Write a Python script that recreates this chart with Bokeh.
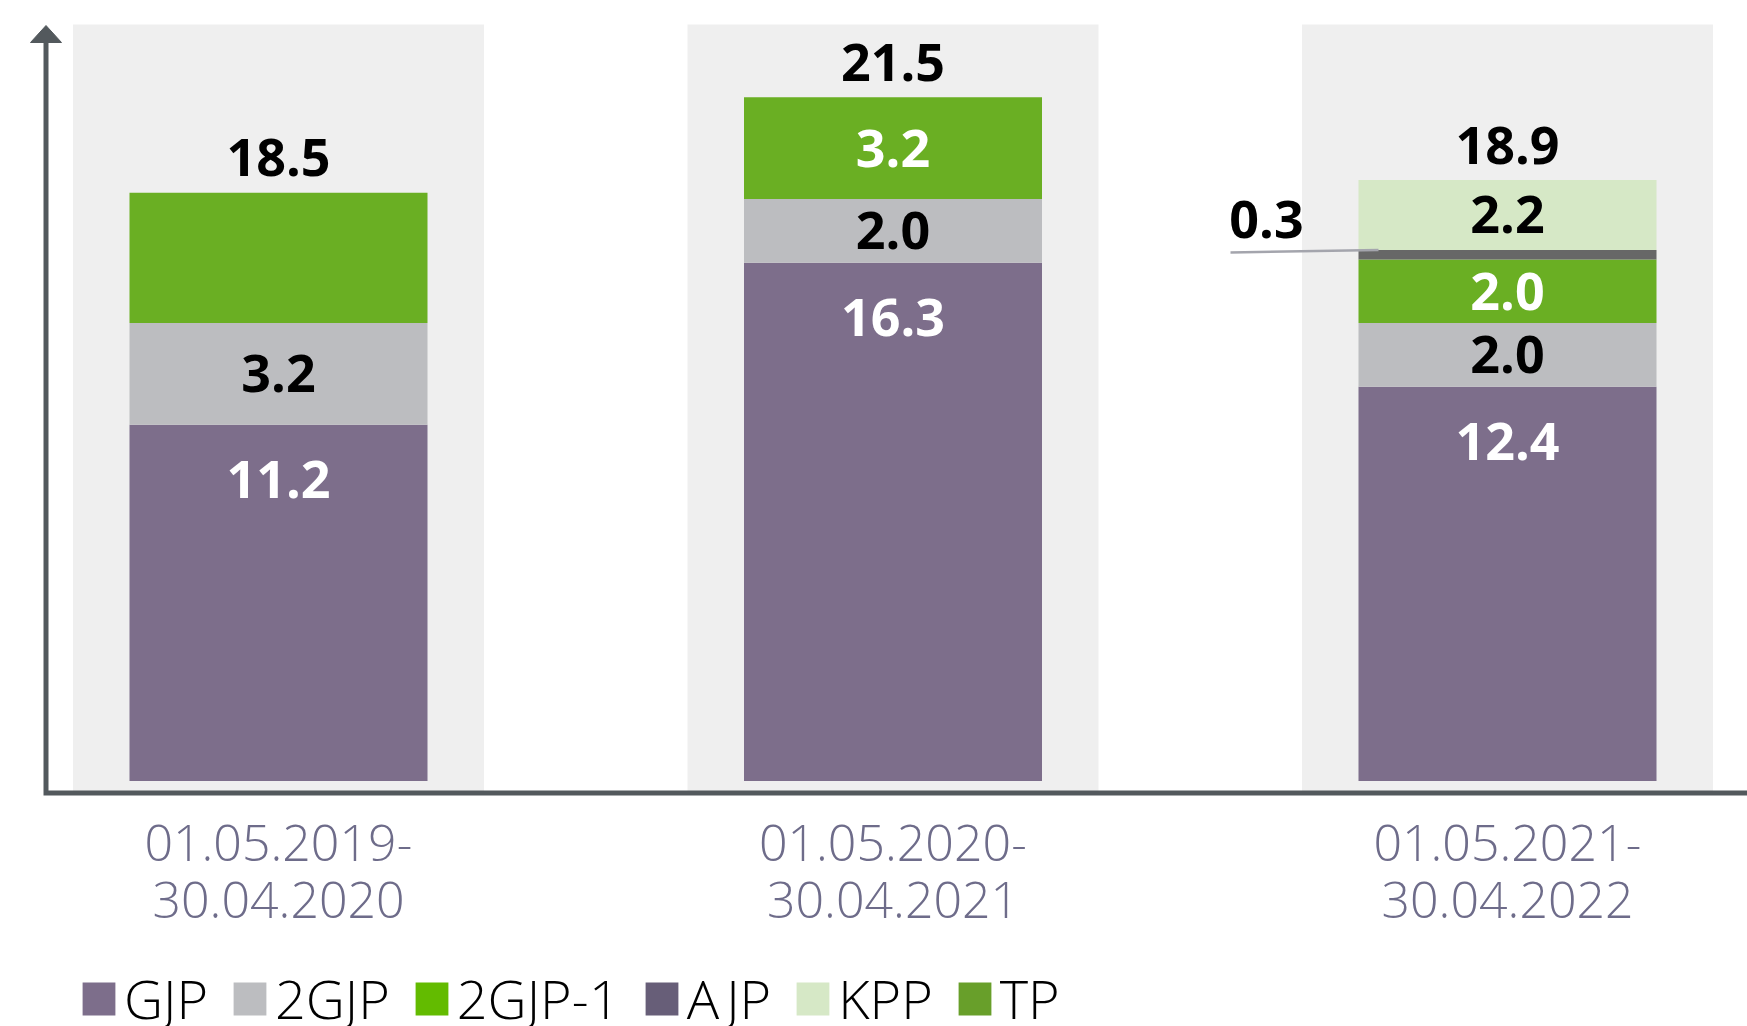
from bokeh.plotting import figure
from bokeh.layouts import column
from bokeh.models import ColumnDataSource, Range1d, FixedTicker, Legend, LegendItem
from bokeh.core.properties import value
from bokeh.embed import file_html
from bokeh.resources import INLINE

# ---------------- data ----------------
periods = ["01.05.2019-\n30.04.2020", "01.05.2020-\n30.04.2021", "01.05.2021-\n30.04.2022"]
series = ["GJP", "2GJP", "2GJP-1", "AJP", "KPP", "TP"]
gjp = [11.2, 16.3, 12.4]
gjp2 = [3.2, 2.0, 2.0]
gjp2_1 = [4.1, 3.2, 2.0]
ajp = [0.0, 0.0, 0.3]
kpp = [0.0, 0.0, 2.2]
tp = [0.0, 0.0, 0.0]
totals = [18.5, 21.5, 18.9]
# which segment values are printed inside the bars
shown = {
    "GJP": [True, True, True],
    "2GJP": [True, True, True],
    "2GJP-1": [False, True, True],
    "AJP": [False, False, False],
    "KPP": [False, False, True],
    "TP": [False, False, False],
}

# ---------------- styles ----------------
bar_colors = {"GJP": "#7d6e8b", "2GJP": "#bcbdc0", "2GJP-1": "#6aaf23",
              "AJP": "#676767", "KPP": "#d6e8c6", "TP": "#689f2a"}
legend_colors = {"GJP": "#7d6e8b", "2GJP": "#bcbdc0", "2GJP-1": "#63bb00",
                 "AJP": "#675e78", "KPP": "#d6e8c6", "TP": "#689f2a"}
label_colors = {"GJP": "#ffffff", "2GJP": "#000000", "2GJP-1": "#ffffff",
                "AJP": "#000000", "KPP": "#000000", "TP": "#ffffff"}
AXIS_COLOR = "#53595d"
PANEL_COLOR = "#efefef"
TICK_COLOR = "#6e6c8a"
BOLD_FONT = "Open Sans"
LIGHT_FONT = "Open Sans Light"
LABEL_SIZE = "52px"

# layout (pixel scale helpers)
PX_X = 614.5   # px per category step
PX_Y = 31.8    # px per value unit
x_start = -263 / PX_X
x_end = x_start + 1732 / PX_X
y_start = -16.5 / PX_Y
y_end = y_start + 777 / PX_Y
axis_y = -12 / PX_Y
axis_x = -232.5 / PX_X
panel_top = 756.5 / PX_Y
arrow_tip = 755.5 / PX_Y
arrow_base = 738.5 / PX_Y
arrow_half = 15.5 / PX_X
BAR_W = 298 / PX_X
PANEL_W = 411 / PX_X

values = {"GJP": gjp, "2GJP": gjp2, "2GJP-1": gjp2_1, "AJP": ajp, "KPP": kpp, "TP": tp}
xs = list(range(len(periods)))

p = figure(width=1747, height=954, output_backend="svg", toolbar_location=None,
           x_range=Range1d(x_start, x_end), y_range=Range1d(y_start, y_end),
           min_border_left=15, min_border_right=0, min_border_top=20, min_border_bottom=157)
p.outline_line_color = None
p.grid.visible = False
p.background_fill_color = "white"
p.yaxis.visible = False

# background panels
p.vbar(x=xs, width=PANEL_W, bottom=axis_y, top=panel_top, fill_color=PANEL_COLOR, line_color=None)

# stacked bars
src = ColumnDataSource(dict(x=xs, **values))
p.vbar_stack(series, x="x", width=BAR_W, source=src,
             fill_color=[bar_colors[s] for s in series], line_color=None)

# segment labels
lx, ly, lt, lc = [], [], [], []
for i in xs:
    bottom = 0.0
    for s in series:
        v = values[s][i]
        top = bottom + v
        if shown[s][i]:
            lx.append(i)
            ly.append(top - 1.72 if v > 4 else (bottom + top) / 2)
            lt.append(f"{v:.1f}")
            lc.append(label_colors[s])
        bottom = top
p.text(x=lx, y=ly, text=lt, text_color=lc, text_align="center", text_baseline="middle",
       text_font=value(BOLD_FONT), text_font_style="bold", text_font_size=LABEL_SIZE)

# totals
p.text(x=xs, y=[t + 1.1 for t in totals], text=[f"{t:.1f}" for t in totals], text_align="center",
       text_baseline="middle", text_color="#000000",
       text_font=value(BOLD_FONT), text_font_style="bold", text_font_size=LABEL_SIZE)

# AJP callout on the third bar
ajp_top = gjp[2] + gjp2[2] + gjp2_1[2] + ajp[2]
p.line(x=[2 - 277 / PX_X, 2 - 129 / PX_X], y=[ajp_top - 0.08, ajp_top],
       line_color="#a4a5ad", line_width=2.5)
p.text(x=[2 - 241 / PX_X], y=[ajp_top + 0.95], text=[f"{ajp[2]:.1f}"], text_align="center",
       text_baseline="middle", text_color="#000000",
       text_font=value(BOLD_FONT), text_font_style="bold", text_font_size=LABEL_SIZE)

# axes drawn as an L with arrow
p.line(x=[axis_x, axis_x, x_end], y=[arrow_base, axis_y, axis_y], line_color=AXIS_COLOR,
       line_width=5, line_join="miter")
p.patch(x=[axis_x - arrow_half, axis_x, axis_x + arrow_half], y=[arrow_base, arrow_tip, arrow_base],
        fill_color=AXIS_COLOR, line_color=AXIS_COLOR, line_width=1)

# x-axis tick labels
p.xaxis.ticker = FixedTicker(ticks=xs)
p.xaxis.major_label_overrides = {i: periods[i] for i in xs}
p.xaxis.axis_line_color = None
p.xaxis.major_tick_line_color = None
p.xaxis.minor_tick_line_color = None
p.xaxis.major_tick_out = 0
p.xaxis.major_tick_in = 0
p.xaxis.minor_tick_out = 0
p.xaxis.major_label_standoff = 10
p.xaxis.major_label_text_font = LIGHT_FONT
p.xaxis.major_label_text_font_size = "50px"
p.xaxis.major_label_text_color = TICK_COLOR
p.xaxis.major_label_text_line_height = 0.85

# legend (in its own strip below the chart)
lf = figure(width=1747, height=72, output_backend="svg", toolbar_location=None,
            x_range=Range1d(0, 1), y_range=Range1d(0, 1), min_border=0)
lf.axis.visible = False
lf.grid.visible = False
lf.outline_line_color = None
items = []
for s in series:
    # swatch-only renderer placed outside the visible range
    r = lf.quad(left=[-3], right=[-2], top=[-2], bottom=[-3],
                fill_color=legend_colors[s], line_color=None)
    items.append(LegendItem(label=s, renderers=[r]))
legend = Legend(items=items, orientation="horizontal", location=(63, -9),
                glyph_width=41, glyph_height=41, label_standoff=5, spacing=21,
                padding=0, margin=0, border_line_color=None, background_fill_alpha=0,
                label_text_font=LIGHT_FONT, label_text_font_size="54px",
                label_text_color="#000000")
lf.add_layout(legend)

open("out.html", "w").write(file_html(column(p, lf, spacing=0), INLINE))
